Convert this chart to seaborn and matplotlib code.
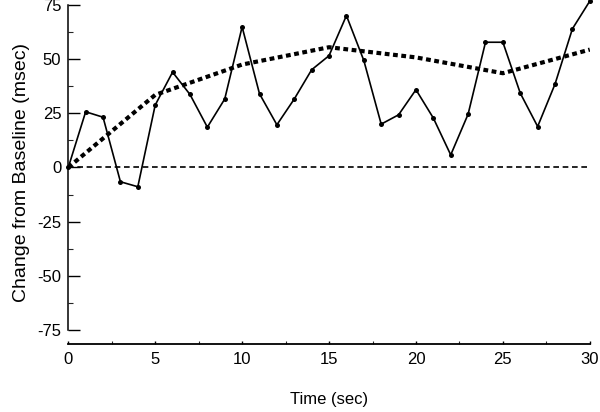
import matplotlib
matplotlib.use("Agg")
import matplotlib.pyplot as plt
import seaborn as sns
import pandas as pd
import numpy as np
from matplotlib.ticker import MultipleLocator

# Data
time_sec = list(range(0, 31))
change_ms = [0, 25.7, 23.2, -6.6, -8.9, 28.8, 44.0, 33.7, 18.6, 31.6, 64.9,
             34.0, 19.7, 31.6, 45.1, 51.6, 70.1, 49.4, 20.0, 24.3, 35.9,
             22.8, 5.8, 24.6, 57.8, 57.8, 34.3, 18.9, 38.5, 64.0, 76.8]
trend_time = [0, 5, 10, 15, 20, 25, 30]
trend_ms = [0, 33.5, 47.5, 55.5, 50.8, 43.5, 54.4]
baseline_time = [0, 30]
baseline_ms = [0, 0]

x_ticks = [0, 5, 10, 15, 20, 25, 30]
y_ticks = [-75, -50, -25, 0, 25, 50, 75]

sns.set_theme(style="ticks")
plt.rcParams['font.family'] = ['Liberation Sans', 'DejaVu Sans']

fig = plt.figure(figsize=(6.0, 4.12), dpi=100)
ax = fig.add_axes([0.1138, 0.165, 0.983 - 0.1138, 0.835])

df = pd.DataFrame({"t": time_sec, "v": change_ms})
dft = pd.DataFrame({"t": trend_time, "v": trend_ms})
dfb = pd.DataFrame({"t": baseline_time, "v": baseline_ms})

sns.lineplot(data=dfb, x="t", y="v", ax=ax, color="black", lw=1.2,
             linestyle=(0, (3.4, 2.2)))
sns.lineplot(data=dft, x="t", y="v", ax=ax, color="black", lw=3.0,
             linestyle=(0, (1.15, 0.85)))
sns.lineplot(data=df, x="t", y="v", ax=ax, color="black", lw=1.2,
             marker="o", markersize=3.6, markeredgewidth=0, clip_on=False)

ax.set_xlim(0, 30)
ax.set_ylim(-81.5, 77.3)
ax.set_xticks(x_ticks)
ax.set_yticks(y_ticks)
ax.set_xticklabels([str(v) for v in x_ticks])
ax.set_yticklabels([str(v) for v in y_ticks])
ax.xaxis.set_minor_locator(MultipleLocator(2.5))
ax.yaxis.set_minor_locator(MultipleLocator(12.5))

ax.tick_params(axis="x", which="major", direction="in", length=2.5, width=1,
               pad=6, labelsize=12, colors="black")
ax.tick_params(axis="x", which="minor", direction="in", length=2, width=0.8)
ax.tick_params(axis="y", which="major", direction="in", length=8.5, width=1,
               pad=5, labelsize=12, colors="black")
ax.tick_params(axis="y", which="minor", direction="in", length=3.5, width=0.8)

for s in ["top", "right"]:
    ax.spines[s].set_visible(False)
ax.spines["left"].set_bounds(-75, 75)
ax.spines["left"].set_linewidth(1.1)
ax.spines["bottom"].set_linewidth(1.3)
ax.spines["left"].set_color("black")
ax.spines["bottom"].set_color("black")

ax.set_xlabel("Time (sec)", fontsize=12, labelpad=18, color="black")
ax.set_ylabel("Change from Baseline (msec)", fontsize=14, labelpad=5, color="black")

fig.savefig("out.png", dpi=100)
